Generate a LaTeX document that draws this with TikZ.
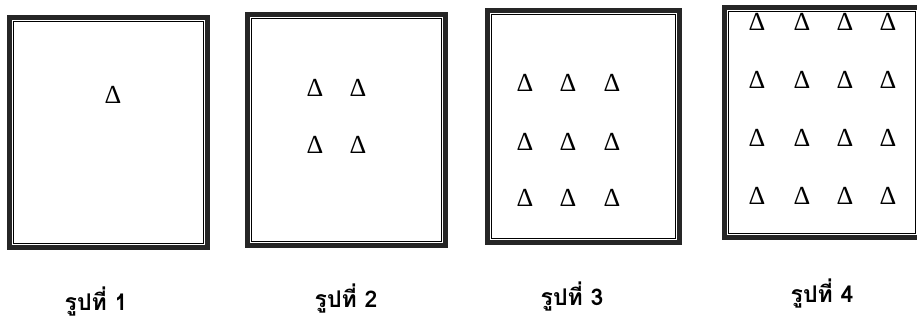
\documentclass[tikz,border=0pt]{standalone}
\usepackage{fontspec}
\setmainfont{Liberation Serif}
\newfontfamily\thaifont[Script=Thai]{Loma}
\begin{document}
\begin{tikzpicture}[
  x=1pt, y=-1pt,
  frame/.style={draw=black!85, line width=5pt, inner sep=0pt},
  inner/.style={draw, line width=1.3pt},
  tri/.style={inner sep=0pt, font=\fontsize{26}{26}\selectfont},
  caption/.style={inner sep=0pt, font=\thaifont\bfseries\fontsize{23}{25}\selectfont}
]
\useasboundingbox (0,0) rectangle (917,322);
% frames
\node[frame, minimum width=198pt, minimum height=230pt] (f1) at (108.5,132.5) {};
\node[frame, minimum width=198pt, minimum height=231pt] (f2) at (346.5,130) {};
\node[frame, minimum width=192pt, minimum height=232pt] (f3) at (583.5,126.5) {};
\node[frame, minimum width=195pt, minimum height=230pt] (f4) at (822,122.5) {};
\foreach \f in {f1,f2,f3,f4}
  \draw[inner] ([shift={(6.5,6.5)}]\f.north west) rectangle ([shift={(-6.5,-6.5)}]\f.south east);
% triangles
\node[tri] (t1) at (113,95) {Δ};
\foreach \x [count=\i] in {315,358}
  \foreach \y [count=\j] in {88,145}
    \node[tri] (t2-\i-\j) at (\x,\y) {Δ};
\foreach \x [count=\i] in {525,568,612}
  \foreach \y [count=\j] in {83,142,198}
    \node[tri] (t3-\i-\j) at (\x,\y) {Δ};
\foreach \x [count=\i] in {757,802,845,888}
  \foreach \y [count=\j] in {22,80,138,196}
    \node[tri] (t4-\i-\j) at (\x,\y) {Δ};
% captions
\node[caption] (c1) at (96,301) {รูปที่ 1};
\node[caption] (c2) at (346,298) {รูปที่ 2};
\node[caption] (c3) at (572,296) {รูปที่ 3};
\node[caption] (c4) at (822,293) {รูปที่ 4};
\end{tikzpicture}
\end{document}
